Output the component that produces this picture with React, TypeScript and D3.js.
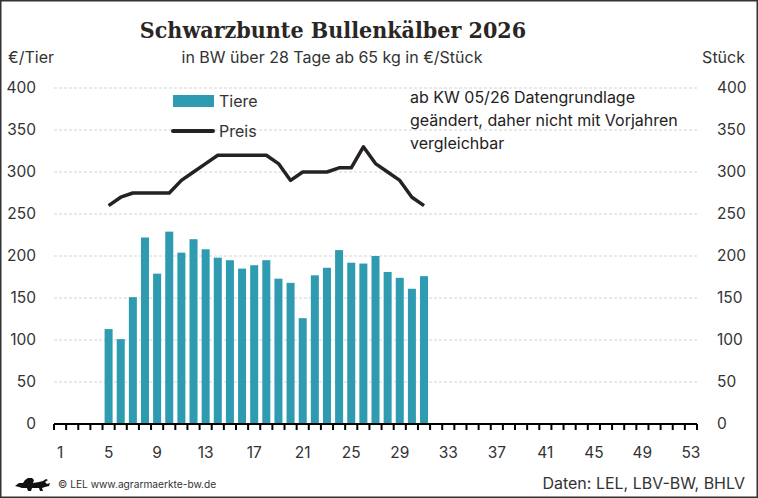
import React from "react";
import * as d3 from "d3";

const weeks = d3.range(1, 54);
const dataWeeks = d3.range(5, 32);
const tiere = [113, 101, 151, 222, 179, 229, 204, 220, 208, 198, 195, 185, 189, 195, 173, 168, 126, 177, 186, 207, 192, 191, 200, 181, 174, 161, 176];
const preis = [260, 270, 275, 275, 275, 275, 290, 300, 310, 320, 320, 320, 320, 320, 310, 290, 300, 300, 300, 305, 305, 330, 310, 300, 290, 270, 260];
const yTicks = [0, 50, 100, 150, 200, 250, 300, 350, 400];
const xTickLabels = [1, 5, 9, 13, 17, 21, 25, 29, 33, 37, 41, 45, 49, 53];
const title = "Schwarzbunte Bullenkälber 2026";
const subtitle = "in BW über 28 Tage ab 65 kg in €/Stück";
const note = ["ab KW 05/26 Datengrundlage", "geändert, daher nicht mit Vorjahren", "vergleichbar"];

const W = 758, H = 498;
const FONT = "Inter, Roboto, sans-serif";
const TEXT = "#333";
const BAR = "#2E9BB0";
const LINE = "#262220";

export default function App() {
  const x = d3.scaleBand<number>().domain(weeks).range([54, 697]).paddingInner(0.34).paddingOuter(0.17);
  const y = d3.scaleLinear().domain([0, 400]).range([424, 88]);
  const bw = x.bandwidth();
  const step = x.step();
  const gap = (step - bw) / 2;
  const cx = (k: number) => (x(k) as number) + bw / 2;
  const line = d3.line<number>().x((_, i) => cx(dataWeeks[i])).y((d) => y(d));
  const boundaries = weeks.map((k) => (x(k) as number) - gap).concat([(x(53) as number) + bw + gap]);

  return (
    <svg width={W} height={H} style={{ position: "absolute", left: 0, top: 0, background: "#fff" }} fontFamily={FONT}>
      <rect x={0.75} y={0.75} width={W - 1.5} height={H - 1.5} fill="#fff" stroke="#333" strokeWidth={1.5} />
      <text x={333} y={38} textAnchor="middle" fontFamily="'DejaVu Serif Condensed', 'DejaVu Serif', serif" fontStretch="condensed" fontWeight="bold" fontSize={23} fill="#2a2623">{title}</text>
      <text x={332} y={63} textAnchor="middle" fontSize={16} fill={TEXT}>{subtitle}</text>
      <text x={8} y={63} fontSize={16} fill={TEXT}>€/Tier</text>
      <text x={745} y={63} textAnchor="end" fontSize={16} fill={TEXT}>Stück</text>

      {yTicks.filter((t) => t > 0).map((t) => (
        <line key={"g" + t} x1={54} x2={697} y1={y(t)} y2={y(t)} stroke="#d4d4d4" strokeWidth={1} strokeDasharray="3,2" />
      ))}
      {yTicks.map((t) => (
        <g key={"t" + t}>
          <text x={36} y={y(t)} dy="0.35em" textAnchor="end" fontSize={15.5} fill={TEXT}>{t}</text>
          <text x={717} y={y(t)} dy="0.35em" textAnchor="start" fontSize={15.5} fill={TEXT}>{t}</text>
        </g>
      ))}

      {dataWeeks.map((k, i) => (
        <rect key={"b" + k} x={x(k) as number} y={y(tiere[i])} width={bw} height={y(0) - y(tiere[i])} fill={BAR} />
      ))}

      <line x1={54} x2={697} y1={y(0)} y2={y(0)} stroke="#000" strokeWidth={2} />
      {boundaries.map((b, i) => (
        <line key={"k" + i} x1={b} x2={b} y1={y(0)} y2={y(0) + 6} stroke="#000" strokeWidth={2} />
      ))}
      {xTickLabels.map((k) => (
        <text key={"x" + k} x={cx(k)} y={453} dy="0.35em" textAnchor="middle" fontSize={15.5} fill={TEXT}>{k}</text>
      ))}

      <path d={line(preis) || ""} fill="none" stroke={LINE} strokeWidth={3.5} strokeLinejoin="round" />

      <rect x={173} y={95} width={41} height={12} fill={BAR} />
      <text x={219} y={101} dy="0.35em" fontSize={16} fill={TEXT}>Tiere</text>
      <line x1={173} x2={213} y1={131} y2={131} stroke={LINE} strokeWidth={4} strokeLinecap="round" />
      <text x={219} y={131} dy="0.35em" fontSize={16} fill={TEXT}>Preis</text>

      {note.map((s, i) => (
        <text key={"n" + i} x={410} y={97 + i * 23} dy="0.35em" fontSize={16} fill="#222">{s}</text>
      ))}

      <g transform="translate(15,477)" fill="#111">
        <path d="M0,9 L4,6 L8,6 L10,3 L13,1 L17,1 L19,3 L18,6 L24,5 L28,4 L31,2 L33,3 L30,5 L32,7 L35,6 L34,9 L30,10 L27,11 L28,14 L25,14 L24,11 L17,11 L16,14 L13,14 L12,11 L7,11 L4,10 Z" />
      </g>
      <text x={58} y={488} fontSize={10.2} fill={TEXT}>© LEL www.agrarmaerkte-bw.de</text>
      <text x={745} y={489} textAnchor="end" fontSize={16} fill={TEXT}>Daten: LEL, LBV-BW, BHLV</text>
    </svg>
  );
}
